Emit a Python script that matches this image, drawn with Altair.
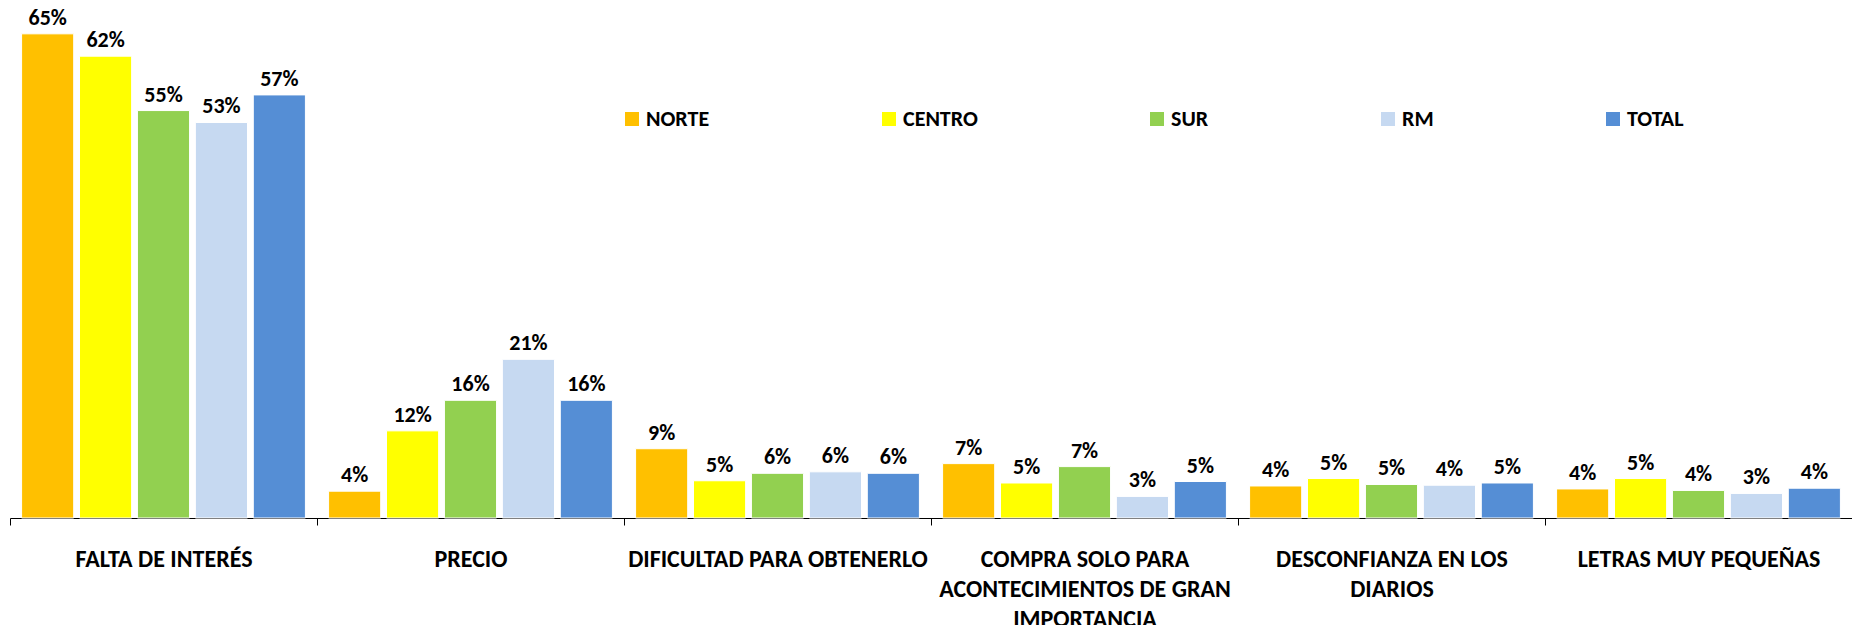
import altair as alt
import pandas as pd

categories = [
    "FALTA DE INTERÉS",
    "PRECIO",
    "DIFICULTAD PARA OBTENERLO",
    "COMPRA SOLO PARA\nACONTECIMIENTOS DE GRAN\nIMPORTANCIA",
    "DESCONFIANZA EN LOS\nDIARIOS",
    "LETRAS MUY PEQUEÑAS",
]
series = ["NORTE", "CENTRO", "SUR", "RM", "TOTAL"]
colors = ["#FFC000", "#FFFF00", "#92D050", "#C6D9F1", "#558ED5"]

norte = [0.650, 0.036, 0.093, 0.073, 0.043, 0.039]
centro = [0.620, 0.117, 0.050, 0.047, 0.053, 0.053]
sur = [0.547, 0.158, 0.060, 0.069, 0.045, 0.037]
rm = [0.531, 0.213, 0.062, 0.029, 0.044, 0.033]
total = [0.568, 0.158, 0.060, 0.049, 0.047, 0.040]

rows = []
for s, vals in zip(series, [norte, centro, sur, rm, total]):
    for c, v in zip(categories, vals):
        rows.append({"cat": c, "serie": s, "val": v})
df = pd.DataFrame(rows)

FONT = "Carlito, Calibri, Lato, sans-serif"

x = alt.X("cat:N", sort=categories, title=None,
          scale=alt.Scale(paddingInner=0, paddingOuter=0),
          axis=alt.Axis(labelAngle=0, labelExpr="split(datum.label, '\\n')",
                        labelFont=FONT, labelFontSize=24, labelFontWeight="bold",
                        labelColor="#000000", labelLineHeight=30, labelPadding=22,
                        labelLimit=400, tickBand="extent", tickSize=7,
                        tickColor="#000000", domainColor="#000000", grid=False))
xo = alt.XOffset("serie:N", sort=series,
                 scale=alt.Scale(paddingInner=0.1, paddingOuter=0.2))
y = alt.Y("val:Q", scale=alt.Scale(domain=[0, 0.682], nice=False),
          axis=None)

bars = alt.Chart(df).mark_bar(stroke="white", strokeWidth=1).encode(
    x=x, xOffset=xo, y=y,
    color=alt.Color("serie:N", sort=series,
                    scale=alt.Scale(domain=series, range=colors),
                    legend=alt.Legend(orient="none", legendX=611, legendY=98,
                                      direction="horizontal", columns=5,
                                      gridAlign="each", columnPadding=168,
                                      title=None, symbolType="square",
                                      symbolSize=196, symbolStrokeWidth=0,
                                      labelFont=FONT, labelFontSize=22,
                                      labelFontWeight="bold", labelColor="#000000",
                                      labelOffset=3)),
)

labels = alt.Chart(df).mark_text(
    baseline="alphabetic", dy=-9, font=FONT, fontSize=22, fontWeight="bold",
    color="#000000",
).encode(x=x, xOffset=xo, y=y, text=alt.Text("val:Q", format=".0%"))

chart = (bars + labels).properties(
    width=1842, height=508,
    autosize=alt.AutoSizeParams(type="none"),
    padding={"left": 2, "top": 2, "right": 0, "bottom": 130},
).configure_view(stroke=None)

chart.save("out.html", embed_options={"renderer": "svg", "actions": False})
